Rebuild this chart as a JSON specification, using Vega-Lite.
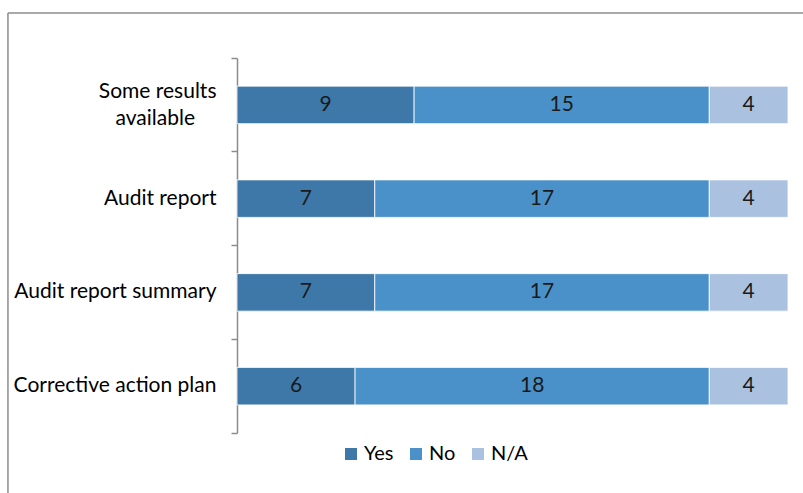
{
  "$schema": "https://vega.github.io/schema/vega-lite/v6.json",
  "autosize": {"type": "none"},
  "padding": {"left": 237, "top": 58, "right": 15, "bottom": 60},
  "width": 551,
  "height": 375,
  "background": "white",
  "config": {
    "view": {"stroke": null},
    "font": "Lato",
    "text": {"font": "Lato"}
  },
  "data": {
    "values": [
      {"item": "Some results available", "answer": "Yes", "order": 1, "count": 9},
      {"item": "Some results available", "answer": "No", "order": 2, "count": 15},
      {"item": "Some results available", "answer": "N/A", "order": 3, "count": 4},
      {"item": "Audit report", "answer": "Yes", "order": 1, "count": 7},
      {"item": "Audit report", "answer": "No", "order": 2, "count": 17},
      {"item": "Audit report", "answer": "N/A", "order": 3, "count": 4},
      {"item": "Audit report summary", "answer": "Yes", "order": 1, "count": 7},
      {"item": "Audit report summary", "answer": "No", "order": 2, "count": 17},
      {"item": "Audit report summary", "answer": "N/A", "order": 3, "count": 4},
      {"item": "Corrective action plan", "answer": "Yes", "order": 1, "count": 6},
      {"item": "Corrective action plan", "answer": "No", "order": 2, "count": 18},
      {"item": "Corrective action plan", "answer": "N/A", "order": 3, "count": 4}
    ]
  },
  "layer": [
    {
      "transform": [
        {"stack": "count", "groupby": ["item"], "sort": [{"field": "order", "order": "ascending"}], "as": ["x0", "x1"]},
        {"calculate": "(datum.x0 + datum.x1) / 2", "as": "xmid"}
      ],
      "encoding": {
        "y": {
          "field": "item", "type": "nominal",
          "sort": ["Some results available", "Audit report", "Audit report summary", "Corrective action plan"],
          "scale": {"paddingInner": 0, "paddingOuter": 0},
          "axis": {
            "title": null,
            "domain": true, "domainColor": "#8c8c8c", "domainWidth": 1.5,
            "ticks": true, "tickColor": "#8c8c8c", "tickWidth": 1.5, "tickSize": 6,
            "bandPosition": 1, "tickExtra": true,
            "labelFont": "Lato", "labelFontSize": 21, "labelColor": "#000000",
            "labelPadding": 15, "labelLineHeight": 27, "labelLimit": 0,
            "labelOffset": {"condition": {"test": "datum.value == 'Some results available'", "value": -13}, "value": 0},
            "labelExpr": "datum.value == 'Some results available' ? ['Some results', 'available\u00a0\u00a0\u00a0\u00a0\u2060'] : datum.value"
          }
        }
      },
      "layer": [
        {
          "mark": {"type": "bar", "stroke": "white", "strokeWidth": 0.8, "height": {"band": 0.4}},
          "encoding": {
            "x": {"field": "x0", "type": "quantitative", "scale": {"domain": [0, 28], "nice": false, "zero": true}, "axis": null},
            "x2": {"field": "x1"},
            "color": {
              "field": "answer", "type": "nominal",
              "sort": ["Yes", "No", "N/A"],
              "scale": {"domain": ["Yes", "No", "N/A"], "range": ["#3e78a8", "#4a91c9", "#aac2df"]},
              "legend": {
                "title": null, "orient": "none", "direction": "horizontal",
                "legendX": 104, "legendY": 386,
                "symbolType": "square", "symbolSize": 144, "symbolStrokeWidth": 0,
                "labelFont": "Lato", "labelFontSize": 20, "labelColor": "#000000",
                "labelOffset": 3, "columnPadding": 12
              }
            }
          }
        },
        {
          "mark": {"type": "text", "fontSize": 21, "color": "#1a1a1a", "font": "Lato"},
          "encoding": {
            "x": {"field": "xmid", "type": "quantitative"},
            "text": {"field": "count", "type": "quantitative"}
          }
        }
      ]
    },
    {
      "data": {"values": [{}]},
      "layer": [
        {
          "mark": {"type": "rule", "color": "#8c8c8c", "strokeWidth": 1.5},
          "encoding": {
            "x": {"datum": -11.64, "type": "quantitative"},
            "y": {"datum": -0.4, "type": "quantitative", "scale": {"domain": [0, 1], "nice": false, "zero": false}, "axis": null},
            "y2": {"datum": 1.12}
          }
        },
        {
          "mark": {"type": "rule", "color": "#8c8c8c", "strokeWidth": 1.5},
          "encoding": {
            "x": {"datum": -11.64, "type": "quantitative"},
            "x2": {"datum": 30},
            "y": {"datum": 1.12, "type": "quantitative", "scale": {"domain": [0, 1], "nice": false, "zero": false}, "axis": null}
          }
        }
      ]
    }
  ],
  "resolve": {"scale": {"y": "independent"}, "axis": {"y": "independent"}}
}
